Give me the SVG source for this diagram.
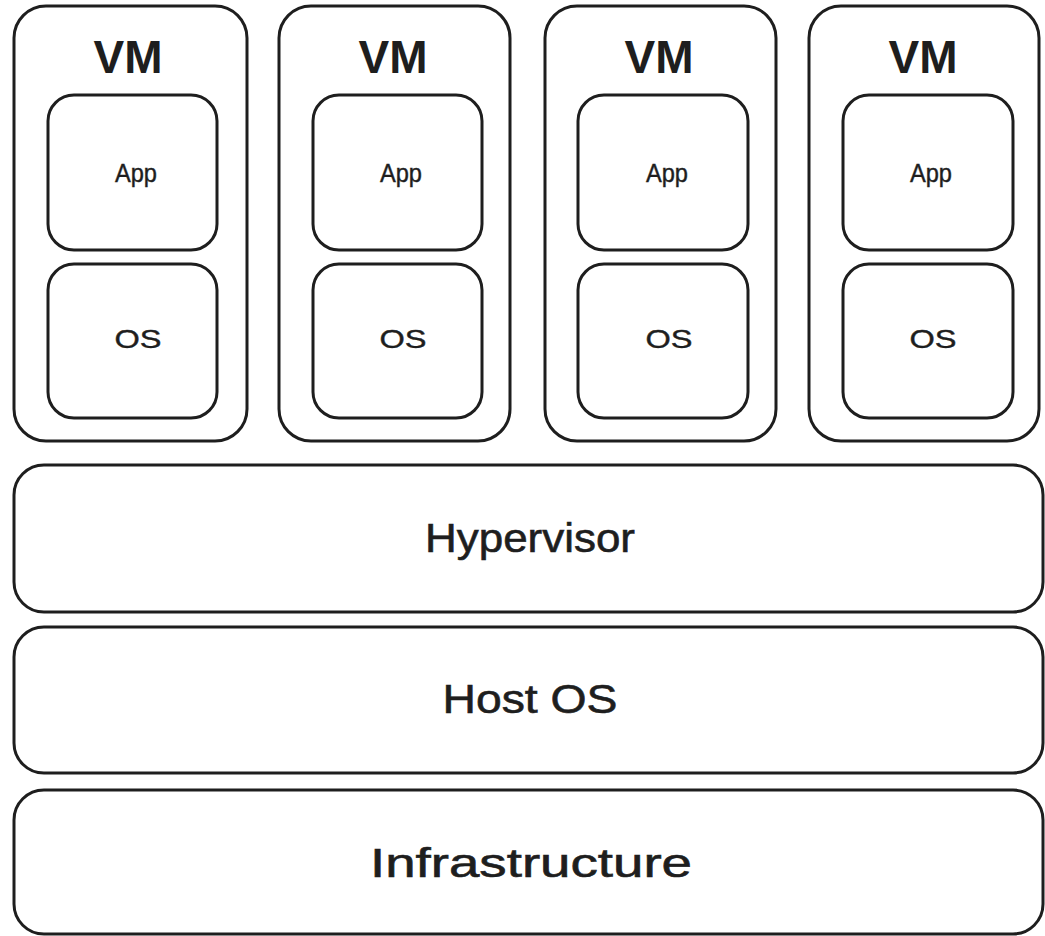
<svg xmlns="http://www.w3.org/2000/svg" width="1045" height="936" viewBox="0 0 1045 936">
  <style>
    .box { fill: #ffffff; stroke: #1e1e1e; stroke-width: 3; }
    .lbl { font-family: "Liberation Sans", Arial, sans-serif; fill: #1e1e1e; text-anchor: middle; stroke: #1e1e1e; stroke-width: 0.6; }
    .vm { font-size: 46px; font-weight: bold; stroke-width: 0; }
    .inner { font-size: 26px; stroke-width: 0.4; }
    .layer { font-size: 40px; }
  </style>
  <rect width="1045" height="936" fill="#ffffff"/>

  <!-- Virtual machines -->
  <g id="vm1">
    <rect class="box" x="14" y="6" width="233" height="435" rx="32"/>
    <text class="lbl vm" x="128" y="73" textLength="69" lengthAdjust="spacingAndGlyphs">VM</text>
    <g id="vm1-app">
      <rect class="box" x="48" y="95" width="169" height="155" rx="26"/>
      <text class="lbl inner" x="136" y="182" textLength="42" lengthAdjust="spacingAndGlyphs">App</text>
    </g>
    <g id="vm1-os">
      <rect class="box" x="48" y="264" width="169" height="154" rx="26"/>
      <text class="lbl inner" x="138" y="348" textLength="47" lengthAdjust="spacingAndGlyphs">OS</text>
    </g>
  </g>

  <g id="vm2">
    <rect class="box" x="279" y="6" width="231" height="435" rx="32"/>
    <text class="lbl vm" x="393" y="73" textLength="69" lengthAdjust="spacingAndGlyphs">VM</text>
    <g id="vm2-app">
      <rect class="box" x="313" y="95" width="169" height="155" rx="26"/>
      <text class="lbl inner" x="401" y="182" textLength="42" lengthAdjust="spacingAndGlyphs">App</text>
    </g>
    <g id="vm2-os">
      <rect class="box" x="313" y="264" width="169" height="154" rx="26"/>
      <text class="lbl inner" x="403" y="348" textLength="47" lengthAdjust="spacingAndGlyphs">OS</text>
    </g>
  </g>

  <g id="vm3">
    <rect class="box" x="545" y="6" width="231" height="435" rx="32"/>
    <text class="lbl vm" x="659" y="73" textLength="69" lengthAdjust="spacingAndGlyphs">VM</text>
    <g id="vm3-app">
      <rect class="box" x="578" y="95" width="170" height="155" rx="26"/>
      <text class="lbl inner" x="667" y="182" textLength="42" lengthAdjust="spacingAndGlyphs">App</text>
    </g>
    <g id="vm3-os">
      <rect class="box" x="578" y="264" width="170" height="154" rx="26"/>
      <text class="lbl inner" x="669" y="348" textLength="47" lengthAdjust="spacingAndGlyphs">OS</text>
    </g>
  </g>

  <g id="vm4">
    <rect class="box" x="809" y="6" width="230" height="435" rx="32"/>
    <text class="lbl vm" x="923" y="73" textLength="69" lengthAdjust="spacingAndGlyphs">VM</text>
    <g id="vm4-app">
      <rect class="box" x="843" y="95" width="170" height="155" rx="26"/>
      <text class="lbl inner" x="931" y="182" textLength="42" lengthAdjust="spacingAndGlyphs">App</text>
    </g>
    <g id="vm4-os">
      <rect class="box" x="843" y="264" width="170" height="154" rx="26"/>
      <text class="lbl inner" x="933" y="348" textLength="47" lengthAdjust="spacingAndGlyphs">OS</text>
    </g>
  </g>

  <!-- Stack layers -->
  <g id="hypervisor">
    <rect class="box" x="14" y="465" width="1029" height="147" rx="30"/>
    <text class="lbl layer" x="530" y="552" textLength="210" lengthAdjust="spacingAndGlyphs">Hypervisor</text>
  </g>
  <g id="host-os">
    <rect class="box" x="14" y="627" width="1029" height="146" rx="30"/>
    <text class="lbl layer" x="530" y="713" textLength="175" lengthAdjust="spacingAndGlyphs">Host OS</text>
  </g>
  <g id="infrastructure">
    <rect class="box" x="14" y="790" width="1029" height="144" rx="30"/>
    <text class="lbl layer" x="531" y="877" textLength="322" lengthAdjust="spacingAndGlyphs">Infrastructure</text>
  </g>

  <!-- No connectors in this layered stack -->
  <g id="connectors"/>
</svg>
